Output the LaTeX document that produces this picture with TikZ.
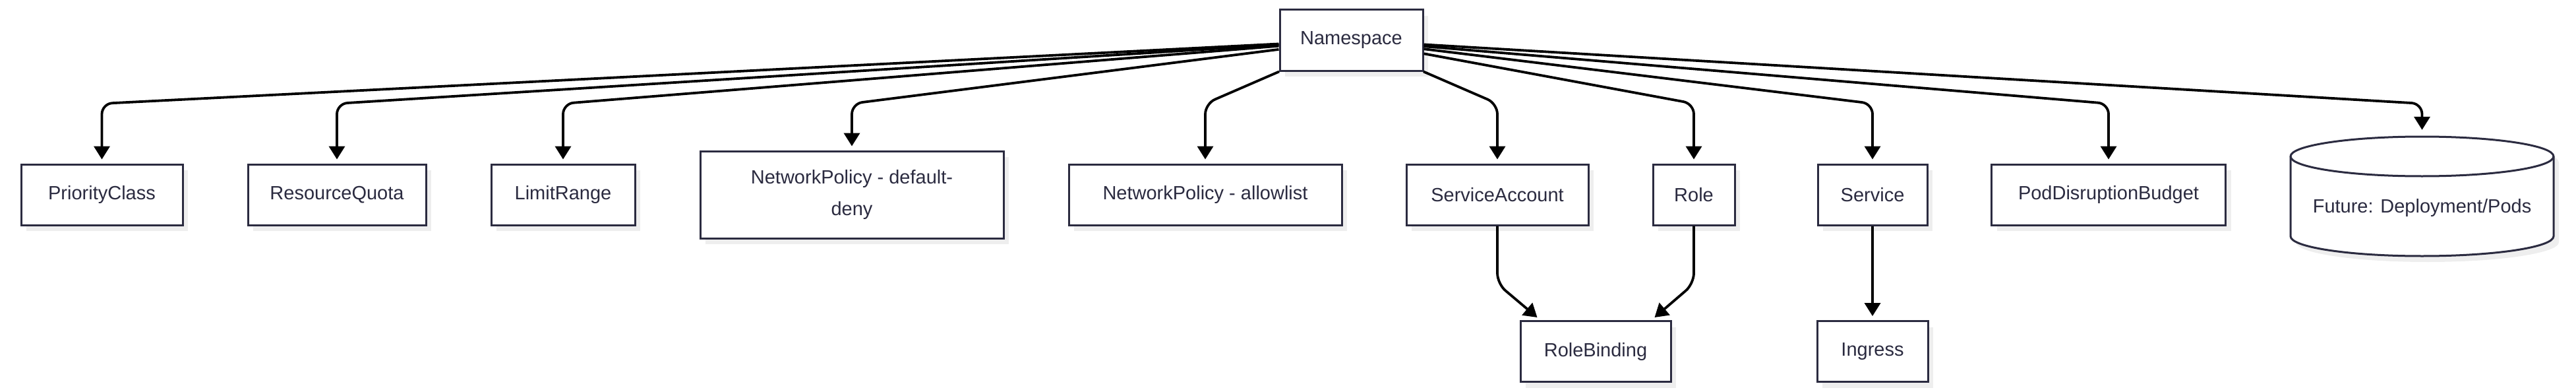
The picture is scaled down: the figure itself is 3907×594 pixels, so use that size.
\documentclass[tikz,border=0pt]{standalone}
\usepackage{fontspec}
\setmainfont{Liberation Sans}
\usetikzlibrary{arrows.meta,shadows}
\definecolor{bx}{HTML}{2B2B40}
\definecolor{shd}{HTML}{EEEEEE}
\begin{document}
\begin{tikzpicture}[x=1pt,y=-1pt,
  lbl/.style={text=bx, font=\fontsize{29}{48}\selectfont, inner sep=0pt, align=center},
  box/.style={lbl, draw=bx, line width=3pt, fill=white, minimum height=92pt,
    drop shadow={shadow xshift=8pt, shadow yshift=-9pt, fill=shd, opacity=1}},
  arr/.style={draw=black, line width=3.8pt, rounded corners=16pt,
    -{Triangle[length=20pt,width=24pt]}, shorten >=6pt}]
\useasboundingbox (0,0) rectangle (3907,594);

% nodes
\node[box, minimum width=217pt] (ns) at (2049.5,61) {Namespace};
\node[box, minimum width=245pt] (pc) at (154.5,295) {PriorityClass};
\node[box, minimum width=270pt] (rq) at (511,295) {ResourceQuota};
\node[box, minimum width=218pt] (lr) at (854,295) {LimitRange};
\node[box, minimum width=460pt, minimum height=132pt] (npdd) at (1292,295) {NetworkPolicy - default-\\deny};
\node[box, minimum width=414pt] (npal) at (1828,295) {NetworkPolicy - allowlist};
\node[box, minimum width=276pt] (sa) at (2271,295) {ServiceAccount};
\node[box, minimum width=124pt] (role) at (2569,295) {Role};
\node[box, minimum width=166pt] (svc) at (2840,295) {Service};
\node[box, minimum width=355pt] (pdb) at (3198,295) {PodDisruptionBudget};
\node[box, minimum width=228pt] (rb) at (2420,532.5) {RoleBinding};
\node[box, minimum width=168pt] (ing) at (2840,532.5) {Ingress};

% cylinder (Future)
\fill[shd] (3482,246) -- (3482,367)
  arc[start angle=180,end angle=360,x radius=199.5pt,y radius=30pt]
  -- (3881,246)
  arc[start angle=0,end angle=180,x radius=199.5pt,y radius=30pt] -- cycle;
\draw[bx, line width=3pt, fill=white] (3474,237) -- (3474,358)
  arc[start angle=180,end angle=360,x radius=199.5pt,y radius=30pt]
  -- (3873,237)
  arc[start angle=0,end angle=180,x radius=199.5pt,y radius=30pt] -- cycle;
\draw[bx, line width=3pt] (3474,237)
  arc[start angle=180,end angle=360,x radius=199.5pt,y radius=30pt];
\node[lbl, minimum width=399pt, minimum height=182pt, text height=50pt, text depth=0pt] (fut) at (3673.5,297) {Future: Deployment/Pods};

% connectors
\coordinate (cy) at (0,157);
\coordinate (by) at (0,430);
\draw[arr] (ns) -- (pc |- cy) -- (pc);
\draw[arr] (ns) -- (rq |- cy) -- (rq);
\draw[arr] (ns) -- (lr |- cy) -- (lr);
\draw[arr] (ns) -- (npdd |- cy) -- (npdd);
\draw[arr] (ns) -- (npal |- cy) -- (npal);
\draw[arr] (ns) -- (sa |- cy) -- (sa);
\draw[arr] (ns) -- (role |- cy) -- (role);
\draw[arr] (ns) -- (svc |- cy) -- (svc);
\draw[arr] (ns) -- (pdb |- cy) -- (pdb);
\draw[arr, shorten >=9pt] (ns) -- (fut |- cy) -- (fut);
\draw[arr, shorten >=0pt] (sa) -- (sa |- by) -- ([xshift=27pt,yshift=4pt]rb.north west);
\draw[arr, shorten >=0pt] (role) -- (role |- by) -- ([xshift=-26pt,yshift=4pt]rb.north east);
\draw[arr] (svc) -- (ing);
\end{tikzpicture}
\end{document}
